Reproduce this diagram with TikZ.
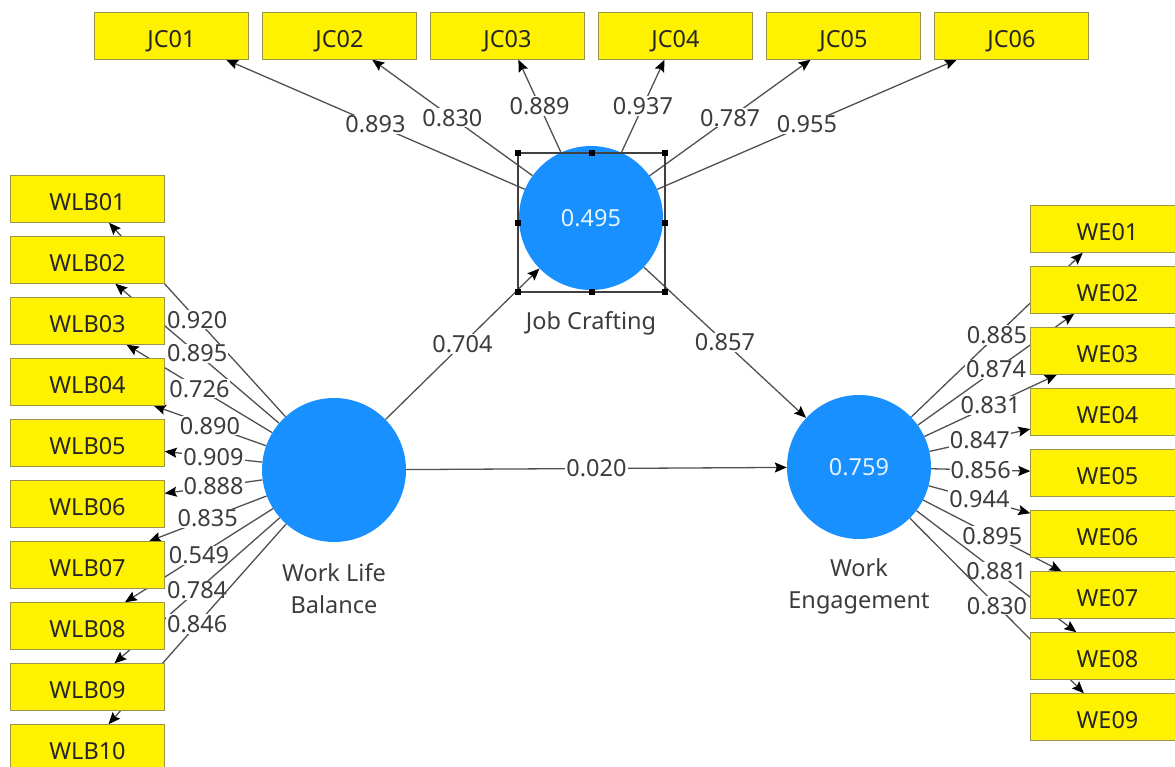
\documentclass[tikz,border=0pt]{standalone}
\usepackage{fontspec}
\setmainfont{Noto Sans}
\usetikzlibrary{arrows.meta,backgrounds}
\definecolor{plsblue}{RGB}{24,144,255}
\definecolor{plsline}{RGB}{80,80,80}
\definecolor{plstext}{RGB}{60,60,60}

\begin{document}
\begin{tikzpicture}[x=1pt,y=-1pt,
  ind/.style={draw=yellow!55!black,fill=yellow,minimum width=154pt,minimum height=47pt,inner sep=0pt,text height=22pt,text depth=0pt,font=\fontsize{23.5}{26}\selectfont,text=black!85},
  lv/.style={circle,fill=plsblue,minimum size=144pt,inner sep=0pt,font=\fontsize{23.5}{26}\selectfont,text=white!88!plsblue},
  lvname/.style={align=center,font=\fontsize{23.5}{32}\selectfont,text=plstext},
  ld/.style={draw=plsline,line width=1.3pt,-{Stealth[black,length=12pt,width=10pt,inset=2pt]}},
  val/.style={fill=white,inner sep=1pt,font=\fontsize{23.5}{26}\selectfont,text=plstext}]
\useasboundingbox (0,0) rectangle (1175,766);
\node [ind] (jc01) at (171.5,36) {JC01};
\node [ind] (jc02) at (339.5,36) {JC02};
\node [ind] (jc03) at (507.5,36) {JC03};
\node [ind] (jc04) at (675.5,36) {JC04};
\node [ind] (jc05) at (843.5,36) {JC05};
\node [ind] (jc06) at (1011.5,36) {JC06};
\node [ind] (wlb01) at (87.5,199) {WLB01};
\node [ind] (wlb02) at (87.5,260) {WLB02};
\node [ind] (wlb03) at (87.5,321) {WLB03};
\node [ind] (wlb04) at (87.5,382) {WLB04};
\node [ind] (wlb05) at (87.5,443) {WLB05};
\node [ind] (wlb06) at (87.5,504) {WLB06};
\node [ind] (wlb07) at (87.5,565) {WLB07};
\node [ind] (wlb08) at (87.5,626) {WLB08};
\node [ind] (wlb09) at (87.5,687) {WLB09};
\node [ind] (wlb10) at (87.5,748) {WLB10};
\node [ind] (we01) at (1107.5,229) {WE01};
\node [ind] (we02) at (1107.5,290) {WE02};
\node [ind] (we03) at (1107.5,351) {WE03};
\node [ind] (we04) at (1107.5,412) {WE04};
\node [ind] (we05) at (1107.5,473) {WE05};
\node [ind] (we06) at (1107.5,534) {WE06};
\node [ind] (we07) at (1107.5,595) {WE07};
\node [ind] (we08) at (1107.5,656) {WE08};
\node [ind] (we09) at (1107.5,717) {WE09};
\node [lv] (jc) at (591,218) {0.495};
\node [lv] (wlb) at (334,470) {};
\node [lv] (we) at (859,467) {0.759};
\node [lvname] (jcname) at (591,323) {Job Crafting};
\node [lvname] (wlbname) at (334,589) {Work Life\\Balance};
\node [lvname] (wename) at (859,586) {Work\\Engagement};
\begin{pgfonlayer}{background}
\draw [ld] (jc) -- node [val] {0.893} (jc01);
\draw [ld] (jc) -- node [val] {0.830} (jc02);
\draw [ld] (jc) -- node [val] {0.889} (jc03);
\draw [ld] (jc) -- node [val] {0.937} (jc04);
\draw [ld] (jc) -- node [val] {0.787} (jc05);
\draw [ld] (jc) -- node [val] {0.955} (jc06);
\draw [ld] (wlb) -- node [val] {0.920} (wlb01);
\draw [ld] (wlb) -- node [val] {0.895} (wlb02);
\draw [ld] (wlb) -- node [val] {0.726} (wlb03);
\draw [ld] (wlb) -- node [val] {0.890} (wlb04);
\draw [ld] (wlb) -- node [val] {0.909} (wlb05);
\draw [ld] (wlb) -- node [val] {0.888} (wlb06);
\draw [ld] (wlb) -- node [val] {0.835} (wlb07);
\draw [ld] (wlb) -- node [val] {0.549} (wlb08);
\draw [ld] (wlb) -- node [val] {0.784} (wlb09);
\draw [ld] (wlb) -- node [val] {0.846} (wlb10);
\draw [ld] (we) -- node [val] {0.885} (we01);
\draw [ld] (we) -- node [val] {0.874} (we02);
\draw [ld] (we) -- node [val] {0.831} (we03);
\draw [ld] (we) -- node [val] {0.847} (we04);
\draw [ld] (we) -- node [val] {0.856} (we05);
\draw [ld] (we) -- node [val] {0.944} (we06);
\draw [ld] (we) -- node [val] {0.895} (we07);
\draw [ld] (we) -- node [val] {0.881} (we08);
\draw [ld] (we) -- node [val] {0.830} (we09);
\draw [ld] (wlb) -- node [val] {0.704} (jc);
\draw [ld] (jc) -- node [val] {0.857} (we);
\draw [ld] (wlb) -- node [val] {0.020} (we);
\end{pgfonlayer}
\draw [black!75,line width=1.2pt] (518,153) rectangle (665,292);
\foreach \p in {(518,153),(591.5,153),(665,153),(518,222.5),(665,222.5),(518,292),(591.5,292),(665,292)}
  \fill [black] \p +(-3,-3) rectangle +(3,3);
\end{tikzpicture}
\end{document}
